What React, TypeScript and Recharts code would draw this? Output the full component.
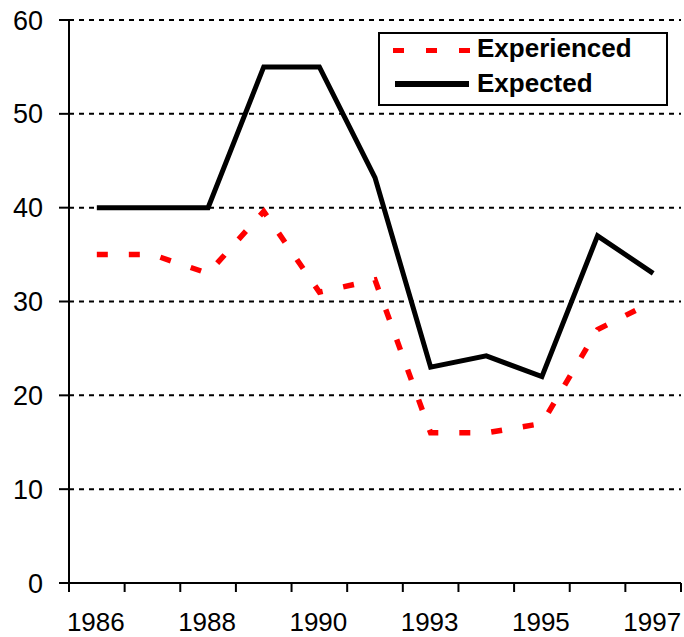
import React from 'react'
import { LineChart, Line, XAxis, YAxis, CartesianGrid } from 'recharts'

const years = ['1986', '1987', '1988', '1989', '1990', '1991', '1993', '1994', '1995', '1996', '1997']
const experienced = [35, 35, 33, 39.6, 31, 32.3, 16, 16, 17, 27, 30]
const expected = [40, 40, 40, 55, 55, 43.2, 23, 24.2, 22, 37, 33]
const yTicks = [0, 10, 20, 30, 40, 50, 60]
const labelledYears = ['1986', '1988', '1990', '1993', '1995', '1997']

const data = years.map((y, i) => ({ year: y, Experienced: experienced[i], Expected: expected[i] }))

const FONT = '"Liberation Sans", Arial, sans-serif'
const BAND = 612 / 11

function YearTick(props: any) {
  const { x, y, payload, index } = props
  const last = index === years.length - 1
  return (
    <g>
      <line x1={x - BAND / 2} x2={x - BAND / 2} y1={y - 9} y2={y} stroke="#000" strokeWidth={2} />
      {last && <line x1={x + BAND / 2} x2={x + BAND / 2} y1={y - 9} y2={y} stroke="#000" strokeWidth={2} />}
      {labelledYears.includes(payload.value) && (
        <text x={x - 1} y={y + 39} textAnchor="middle" fontFamily={FONT} fontSize={26} fill="#000">
          {payload.value}
        </text>
      )}
    </g>
  )
}

function LegendBox() {
  return (
    <svg width={290} height={74} style={{ display: 'block' }}>
      <rect x={1} y={1} width={288} height={72} fill="#fff" stroke="#000" strokeWidth={2} />
      <line x1={15} x2={93} y1={18.5} y2={18.5} stroke="#ff0000" strokeWidth={5} strokeDasharray="11 22" />
      <text x={99} y={25} fontFamily={FONT} fontWeight="bold" fontSize={26} fill="#000">Experienced</text>
      <line x1={17} x2={91} y1={52} y2={52} stroke="#000" strokeWidth={6} />
      <text x={99} y={60} fontFamily={FONT} fontWeight="bold" fontSize={26} fill="#000">Expected</text>
    </svg>
  )
}

export default function App() {
  return (
    <div style={{ position: 'absolute', left: 0, top: 0, width: 684, height: 637, background: '#fff' }}>
      <LineChart width={684} height={637} data={data} margin={{ top: 20, right: 3, bottom: 0, left: 0 }}>
        <CartesianGrid vertical={false} stroke="#000" strokeWidth={2} strokeDasharray="5 5" />
        <XAxis
          dataKey="year"
          interval={0}
          padding={{ left: BAND / 2, right: BAND / 2 }}
          tick={<YearTick />}
          tickLine={false}
          tickSize={9}
          tickMargin={0}
          height={54}
          axisLine={{ stroke: '#000', strokeWidth: 2 }}
        />
        <YAxis
          domain={[0, 60]}
          ticks={yTicks}
          interval={0}
          width={69}
          tickSize={10}
          tickMargin={16}
          axisLine={{ stroke: '#000', strokeWidth: 2 }}
          tickLine={{ stroke: '#000', strokeWidth: 2 }}
          tick={{ fill: '#000', fontSize: 27, fontFamily: FONT }}
        />
        <Line
          dataKey="Experienced"
          stroke="#ff0000"
          strokeWidth={5.5}
          strokeDasharray="11 21"
          dot={false}
          isAnimationActive={false}
          strokeLinejoin="miter"
        />
        <Line
          dataKey="Expected"
          stroke="#000"
          strokeWidth={5}
          dot={false}
          isAnimationActive={false}
          strokeLinejoin="miter"
        />
      </LineChart>
      <div style={{ position: 'absolute', left: 378, top: 32 }}>
        <LegendBox />
      </div>
    </div>
  )
}
